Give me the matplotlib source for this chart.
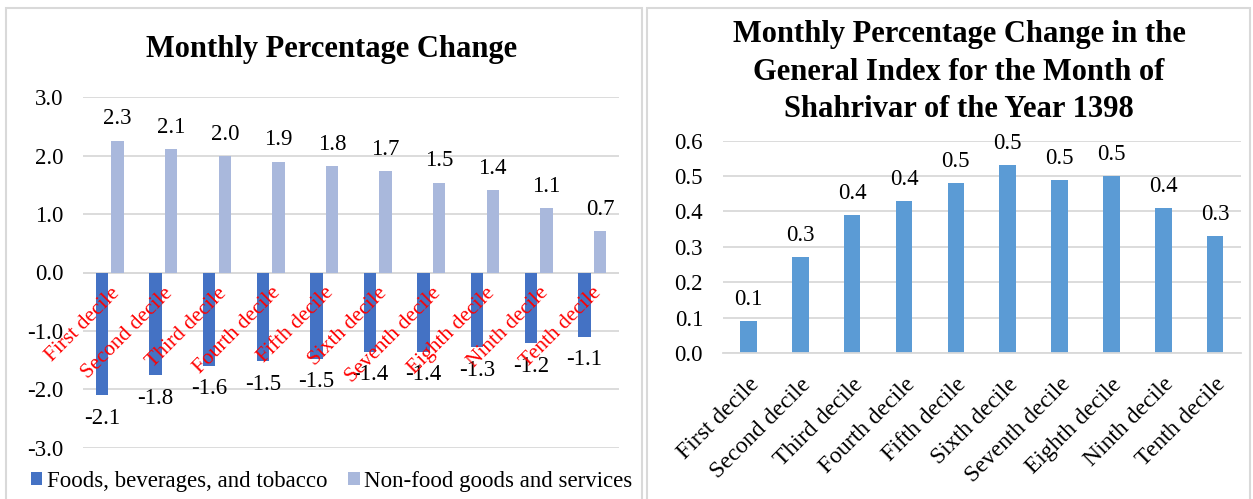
import numpy as np
import matplotlib
matplotlib.use("Agg")
import matplotlib.pyplot as plt
from matplotlib.patches import Rectangle
from matplotlib.ticker import FormatStrFormatter

plt.rcParams["font.family"] = ["Liberation Serif", "DejaVu Serif"]
plt.rcParams["axes.unicode_minus"] = False

deciles = ["First decile", "Second decile", "Third decile", "Fourth decile",
           "Fifth decile", "Sixth decile", "Seventh decile", "Eighth decile",
           "Ninth decile", "Tenth decile"]
food = [-2.10, -1.76, -1.60, -1.52, -1.48, -1.36, -1.36, -1.28, -1.21, -1.10]
nonfood = [2.26, 2.11, 2.00, 1.90, 1.82, 1.74, 1.54, 1.41, 1.10, 0.71]
general = [0.09, 0.27, 0.39, 0.43, 0.48, 0.53, 0.49, 0.50, 0.41, 0.33]

W, H = 1253, 499
fig = plt.figure(figsize=(W / 100, H / 100), dpi=100)


def box(x0, y0, x1, y1):
    # pixel box -> figure coords
    return [x0 / W, 1 - y1 / H, (x1 - x0) / W, (y1 - y0) / H]


grid_c = "#d9d9d9"

# chart frames
for x0, x1 in [(6, 642), (647, 1250)]:
    fig.patches.append(Rectangle((x0 / W, -0.01), (x1 - x0) / W, 1 - 8 / H + 0.01,
                                 transform=fig.transFigure, fill=False,
                                 edgecolor=grid_c, lw=1.5))

# ---- left chart
ax1 = fig.add_axes(box(83, 97.3, 619, 447.7))
x = np.arange(len(deciles))
b1 = ax1.bar(x - 0.145, food, 0.23, color="#4472C4", label="Foods, beverages, and tobacco")
b2 = ax1.bar(x + 0.145, nonfood, 0.23, color="#A9B8DC", label="Non-food goods and services")
ax1.bar_label(b1, fmt="%.1f", padding=9, fontsize=16.5)
ax1.bar_label(b2, fmt="%.1f", padding=8, fontsize=16.5)
ax1.set_xlim(-0.5, 9.5)
ax1.set_ylim(-3, 3)
ax1.set_yticks(np.arange(-3, 3.1, 1))
ax1.yaxis.set_major_formatter(FormatStrFormatter("%.1f"))
ax1.set_xticks(x)
ax1.tick_params(axis="x", length=0, labelbottom=False)
# red category names sit on top of the bars, hanging from the zero line
for i, name in enumerate(deciles):
    ax1.annotate(name, xy=(x[i], 0), xytext=(0, -8), textcoords="offset points",
                 rotation=45, ha="right", va="top", rotation_mode="anchor",
                 color="red", fontsize=15.5, zorder=5)
ax1.axhline(0, color=grid_c, lw=1.3, zorder=0.6)

ax1.legend(loc="center left", bbox_to_anchor=(31 / W, 1 - 481 / H),
           bbox_transform=fig.transFigure, ncol=2, frameon=False, fontsize=16.5,
           handlelength=0.5, handleheight=0.5, handletextpad=0.2,
           columnspacing=0.9, borderpad=0, borderaxespad=0)

# ---- right chart
ax2 = fig.add_axes(box(722.5, 140.7, 1241, 353))
b3 = ax2.bar(x, general, 0.32, color="#5B9BD5")
ax2.bar_label(b3, fmt="%.1f", padding=8, fontsize=16.5)
ax2.set_xlim(-0.5, 9.5)
ax2.set_ylim(0, 0.6)
ax2.set_yticks(np.arange(0, 0.61, 0.1))
ax2.yaxis.set_major_formatter(FormatStrFormatter("%.1f"))
ax2.set_xticks(x, deciles, rotation=45, ha="right", rotation_mode="anchor",
               fontsize=17)
ax2.tick_params(axis="x", length=0, pad=15)
ax2.spines["bottom"].set_color(grid_c)
ax2.spines["bottom"].set_linewidth(1.3)
ax1.spines["bottom"].set_visible(False)

for ax in (ax1, ax2):
    ax.yaxis.grid(True, color=grid_c, lw=1.3)
    ax.set_axisbelow(True)
    for s in ("top", "right", "left"):
        ax.spines[s].set_visible(False)
    ax.tick_params(axis="y", length=0, pad=14, labelsize=16.5)

fig.text(332 / W, 1 - 50 / H, "Monthly Percentage Change", ha="center", va="center",
         fontsize=22, fontweight="bold")
fig.text(959 / W, 1 - 72 / H,
         "Monthly Percentage Change in the\nGeneral Index for the Month of\nShahrivar of the Year 1398",
         ha="center", va="center", fontsize=22, fontweight="bold", linespacing=1.4)

fig.savefig("out.png", dpi=100)
